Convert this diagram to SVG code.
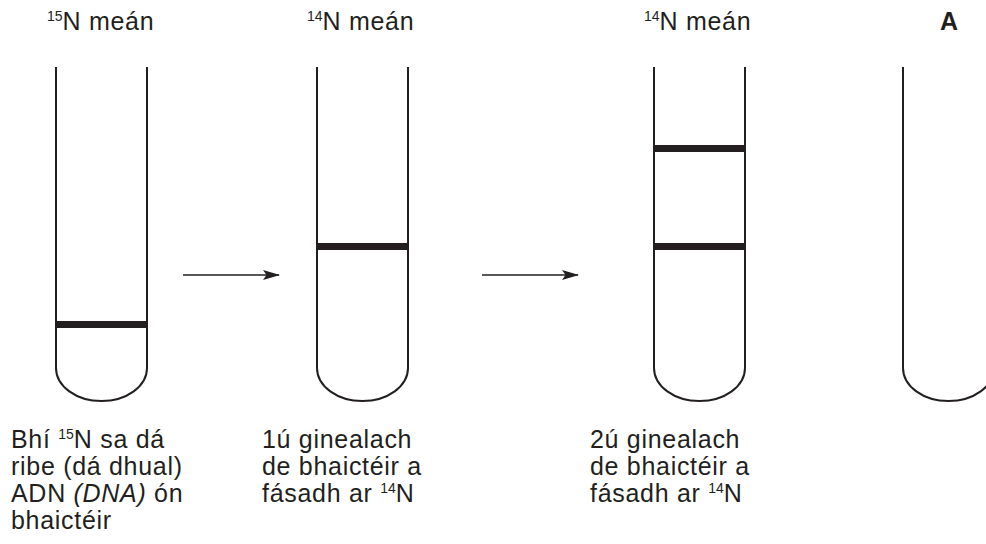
<svg xmlns="http://www.w3.org/2000/svg" width="986" height="544" viewBox="0 0 986 544">
  <style>
    text { font-family: "Liberation Sans", Arial, sans-serif; font-size: 25px; fill: #231f20; letter-spacing: 0.7px; }
    .sup { font-size: 14px; letter-spacing: 0; }
    .bold { font-weight: bold; letter-spacing: 0; }
    .tube { fill: none; stroke: #231f20; stroke-width: 2; }
    .band { fill: #231f20; }
    .arrow { stroke: #231f20; stroke-width: 1.5; fill: none; }
  </style>
  <defs>
    <marker id="ah" viewBox="0 0 17 10" refX="16" refY="5" markerWidth="17" markerHeight="10" markerUnits="userSpaceOnUse" orient="auto">
      <path d="M0,0 L17,5 L0,10 L3.5,5 Z" fill="#231f20"/>
    </marker>
  </defs>
  <rect width="986" height="544" fill="#ffffff"/>

  <g id="tube1">
    <text x="47" y="30"><tspan class="sup" dy="-9">15</tspan><tspan dy="9">N meán</tspan></text>
    <path class="tube" d="M56,67 V368 A45.5,33 0 0 0 147,368 V67"/>
    <rect class="band" x="56" y="321" width="91" height="7"/>
    <text x="11" y="448">Bhí <tspan class="sup" dy="-9">15</tspan><tspan dy="9">N sa dá</tspan></text>
    <text x="11" y="475">ribe (dá dhual)</text>
    <text x="11" y="502">ADN <tspan font-style="italic">(DNA)</tspan> ón</text>
    <text x="11" y="529">bhaictéir</text>
  </g>

  <g id="tube2">
    <text x="307" y="30"><tspan class="sup" dy="-9">14</tspan><tspan dy="9">N meán</tspan></text>
    <path class="tube" d="M317,67 V368 A45.5,33 0 0 0 408,368 V67"/>
    <rect class="band" x="317" y="243" width="91" height="7"/>
    <text x="262" y="448">1ú ginealach</text>
    <text x="262" y="475">de bhaictéir a</text>
    <text x="262" y="502">fásadh ar <tspan class="sup" dy="-9">14</tspan><tspan dy="9">N</tspan></text>
  </g>

  <g id="tube3">
    <text x="644" y="30"><tspan class="sup" dy="-9">14</tspan><tspan dy="9">N meán</tspan></text>
    <path class="tube" d="M654,67 V368 A45.5,33 0 0 0 745,368 V67"/>
    <rect class="band" x="654" y="145" width="91" height="7"/>
    <rect class="band" x="654" y="243" width="91" height="7"/>
    <text x="590" y="448">2ú ginealach</text>
    <text x="590" y="475">de bhaictéir a</text>
    <text x="590" y="502">fásadh ar <tspan class="sup" dy="-9">14</tspan><tspan dy="9">N</tspan></text>
  </g>

  <g id="tubeA">
    <text class="bold" x="940" y="30">A</text>
    <path class="tube" d="M903,67 V368 A45.5,33 0 0 0 994,368 V67"/>
  </g>

  <g id="connectors">
    <line class="arrow" x1="183" y1="275" x2="279" y2="275" marker-end="url(#ah)"/>
    <line class="arrow" x1="482" y1="275" x2="578" y2="275" marker-end="url(#ah)"/>
  </g>
</svg>
